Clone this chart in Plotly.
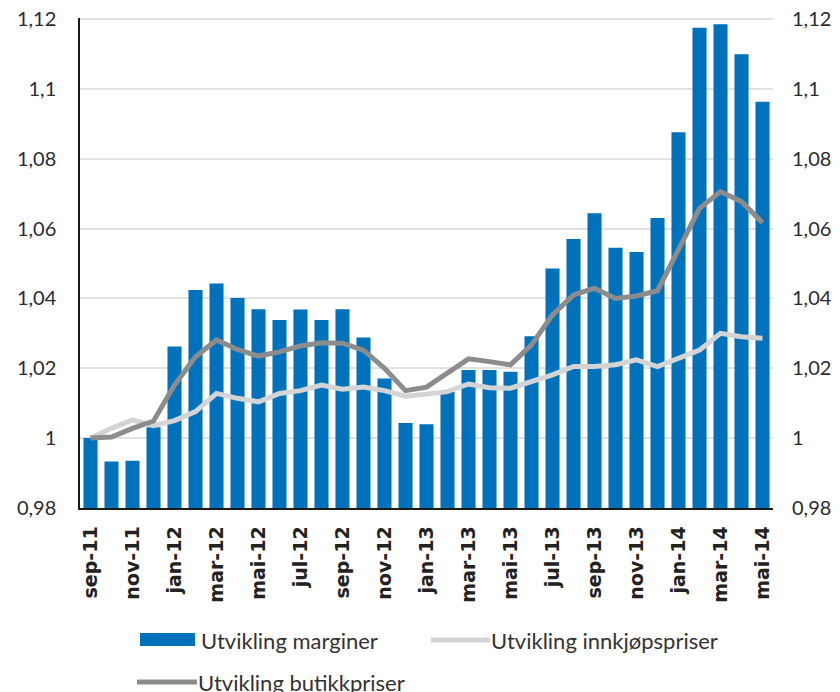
import plotly.graph_objects as go

months = ["sep-11", "okt-11", "nov-11", "des-11",
          "jan-12", "feb-12", "mar-12", "apr-12", "mai-12", "jun-12",
          "jul-12", "aug-12", "sep-12", "okt-12", "nov-12", "des-12",
          "jan-13", "feb-13", "mar-13", "apr-13", "mai-13", "jun-13",
          "jul-13", "aug-13", "sep-13", "okt-13", "nov-13", "des-13",
          "jan-14", "feb-14", "mar-14", "apr-14", "mai-14"]

marginer = [1.000, 0.9933, 0.9935, 1.0031, 1.0262, 1.0424, 1.0443, 1.0401,
            1.0369, 1.0338, 1.0368, 1.0338, 1.0369, 1.0288, 1.0171, 1.0043,
            1.0040, 1.0133, 1.0195, 1.0195, 1.0190, 1.0292, 1.0486, 1.0570,
            1.0644, 1.0545, 1.0533, 1.0630, 1.0876, 1.1175, 1.1185, 1.1099,
            1.0963]

innkjop = [1.000, 1.0028, 1.0052, 1.0036, 1.0050, 1.0076, 1.0128, 1.0114,
           1.0104, 1.0128, 1.0136, 1.0152, 1.0140, 1.0146, 1.0136, 1.0120,
           1.0126, 1.0133, 1.0155, 1.0144, 1.0143, 1.0162, 1.0181, 1.0205,
           1.0205, 1.0210, 1.0224, 1.0205, 1.0229, 1.0252, 1.0300, 1.0290,
           1.0286]

butikk = [1.000, 1.0003, 1.0028, 1.0049, 1.0152, 1.0233, 1.0281, 1.0254,
          1.0235, 1.0247, 1.0264, 1.0273, 1.0272, 1.0252, 1.0200, 1.0136,
          1.0146, 1.0186, 1.0227, 1.0219, 1.0210, 1.0267, 1.0353, 1.0410,
          1.0429, 1.0400, 1.0407, 1.0422, 1.0543, 1.0658, 1.0706, 1.0677,
          1.0617]

tick_months = months[::2]
y_vals = [0.98, 1.0, 1.02, 1.04, 1.06, 1.08, 1.1, 1.12]
y_text = ["0,98", "1", "1,02", "1,04", "1,06", "1,08", "1,1", "1,12"]
y_range = [0.97999, 1.1203]

names = ["Utvikling marginer", "Utvikling innkjøpspriser", "Utvikling butikkpriser"]
colors = ["#0072BC", "#D4D4D4", "#8C8C8C"]

fig = go.Figure()
fig.add_trace(go.Bar(x=months, y=marginer, name=names[0],
                     marker=dict(color=colors[0], line=dict(width=0))))
fig.add_trace(go.Scatter(x=months, y=innkjop, name=names[1], mode="lines",
                         line=dict(color=colors[1], width=5), yaxis="y2"))
fig.add_trace(go.Scatter(x=months, y=butikk, name=names[2], mode="lines",
                         line=dict(color=colors[2], width=5), yaxis="y2"))

tickfont = dict(family="Lato", size=20, color="#2b2b33")

# manual legend (paper coordinates relative to plot area, which spans
# screen pixels x 80..773 and y 18..508)
L, W, B, H = 80, 693, 508, 490
def px(v):
    return (v - L) / W
def py(v):
    return (B - v) / H

shapes = [
    dict(type="rect", xref="paper", yref="paper", x0=px(140), x1=px(195),
         y0=py(646), y1=py(633), fillcolor=colors[0], line=dict(width=0)),
    dict(type="line", xref="paper", yref="paper", x0=px(431), x1=px(490),
         y0=py(640), y1=py(640), line=dict(color=colors[1], width=5)),
    dict(type="line", xref="paper", yref="paper", x0=px(137), x1=px(197),
         y0=py(682), y1=py(682), line=dict(color=colors[2], width=5)),
]
legfont = dict(family="Lato", size=22, color="#333333")
annotations = [
    dict(xref="paper", yref="paper", x=px(199), y=py(640), text=names[0],
         showarrow=False, xanchor="left", yanchor="middle", font=legfont),
    dict(xref="paper", yref="paper", x=px(489), y=py(640), text=names[1],
         showarrow=False, xanchor="left", yanchor="middle", font=legfont),
    dict(xref="paper", yref="paper", x=px(196), y=py(682), text=names[2],
         showarrow=False, xanchor="left", yanchor="middle", font=legfont),
]

fig.update_layout(
    width=832, height=684,
    margin=dict(l=72, r=67, t=10, b=184, autoexpand=False),
    paper_bgcolor="white", plot_bgcolor="white",
    bargap=0.33,
    showlegend=False,
    shapes=shapes,
    annotations=annotations,
    xaxis=dict(type="category", tickmode="array", tickvals=tick_months, ticktext=tick_months,
               tickangle=-90, tickfont=dict(family="DejaVu Sans", size=19, color="#222222", weight="bold"),
               showline=True, linecolor="#1a1a1a", linewidth=1.5,
               showgrid=False, ticks="", ticklabelstandoff=9, range=[-0.5, 32.5],
               automargin=False),
    yaxis=dict(range=y_range, tickmode="array", tickvals=y_vals, ticktext=y_text,
               tickfont=tickfont, showgrid=True, gridcolor="#E2E2E2", gridwidth=1.5,
               showline=True, linecolor="#1a1a1a", linewidth=1.5, zeroline=False,
               ticks="", ticklabelstandoff=18, automargin=False,
               ticklabeloverflow="allow"),
    yaxis2=dict(range=y_range, overlaying="y", side="right", tickmode="array",
                tickvals=y_vals, ticktext=y_text, tickfont=tickfont,
                showgrid=False, showline=False, zeroline=False, ticks="",
                ticklabelstandoff=18, automargin=False,
                ticklabeloverflow="allow"),
)

fig.write_html("out.html")
